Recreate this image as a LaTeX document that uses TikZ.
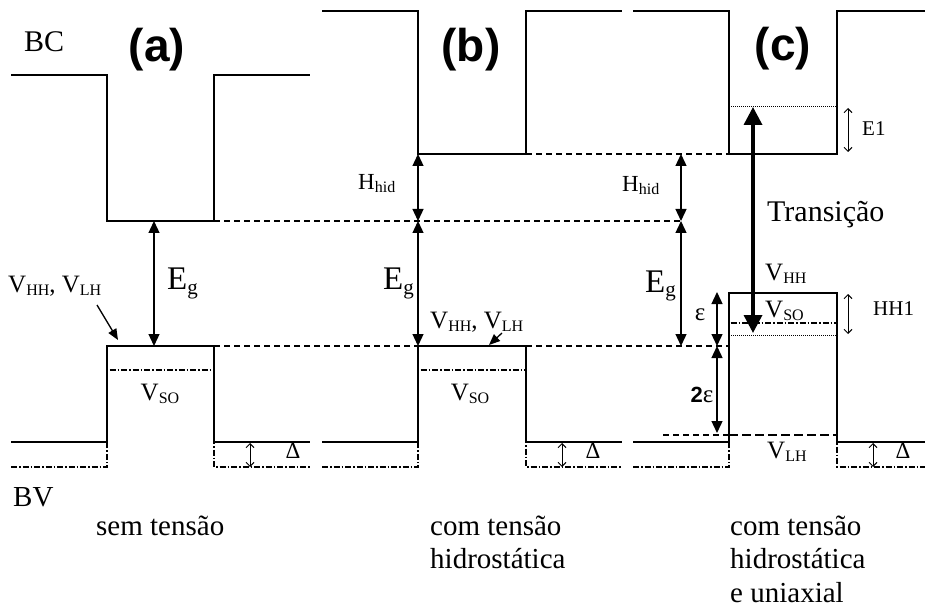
\documentclass[tikz,border=0pt]{standalone}
\usepackage{fontspec}
\setmainfont{Liberation Serif}
\newfontfamily\hsans{Liberation Sans}
\usetikzlibrary{arrows.meta}
\newcommand{\sbs}[1]{\raisebox{-3pt}{\fontsize{16}{16}\selectfont #1}}
\newcommand{\sbg}[1]{\raisebox{-5pt}{\fontsize{21}{21}\selectfont #1}}
\begin{document}
\begin{tikzpicture}[x=1pt,y=-1pt,
  band/.style={line width=1.3pt},
  dsh/.style={line width=1.1pt, dash pattern=on 6pt off 4pt},
  dshdot/.style={line width=1.1pt, dash pattern=on 6pt off 2pt on 1.5pt off 2pt},
  dott/.style={line width=1pt, dash pattern=on 1pt off 1pt},
  tri/.style={line width=1.3pt, {Triangle[length=12pt,width=11pt]}-{Triangle[length=12pt,width=11pt]}},
  ptr/.style={line width=1.3pt, -{Triangle[length=11pt,width=9pt]}},
  thin2/.style={line width=1pt, {Straight Barb[length=4pt,width=8pt]}-{Straight Barb[length=4pt,width=8pt]}},
  big/.style={line width=3.5pt, {Triangle[length=18pt,width=18pt]}-{Triangle[length=18pt,width=18pt]}},
  lab/.style={inner sep=0pt, anchor=base west, font=\fontsize{25}{30}\selectfont},
  labc/.style={inner sep=0pt, anchor=base, font=\fontsize{25}{30}\selectfont},
  txt/.style={inner sep=0pt, anchor=base west, font=\fontsize{29}{33}\selectfont},
  eg/.style={inner sep=0pt, anchor=base west, font=\fontsize{33}{36}\selectfont},
  sm/.style={inner sep=0pt, anchor=base west, font=\fontsize{21}{24}\selectfont},
  panel/.style={inner sep=0pt, anchor=base, font=\hsans\bfseries\fontsize{46}{50}\selectfont}
]
\useasboundingbox (0,0) rectangle (925,609);

% ---------- conduction band ----------
\draw[band] (11,75) -- (107,75) -- (107,221) -- (214,221) -- (214,75) -- (310,75);
\draw[band] (322,11) -- (418,11) -- (418,154) -- (526,154) -- (526,11) -- (622,11);
\draw[band] (633,11) -- (729,11) -- (729,154) -- (837,154) -- (837,11) -- (925,11);
\draw[dott] (729,107) -- (837,107);

% ---------- valence band ----------
\draw[band] (11,442) -- (107,442) -- (107,346) -- (214,346) -- (214,442) -- (310,442);
\draw[band] (322,442) -- (418,442) -- (418,346) -- (526,346) -- (526,442) -- (622,442);
\draw[band] (633,442) -- (729,442) -- (729,293) -- (837,293) -- (837,442) -- (925,442);

% split-off band (dash-dot)
\draw[dshdot] (11,467) -- (107,467) -- (107,370) -- (214,370) -- (214,467) -- (310,467);
\draw[dshdot] (322,467) -- (418,467) -- (418,370) -- (526,370) -- (526,467) -- (622,467);
\draw[dshdot] (633,467) -- (729,467) -- (729,323) -- (837,323) -- (837,467) -- (925,467);

% HH1 level and LH level in (c)
\draw[dott] (729,335) -- (837,335);
\draw[dsh] (663,435) -- (729,435);
\draw[line width=1.5pt, dash pattern=on 9pt off 4pt] (729,435) -- (837,435);

% ---------- reference dashed lines ----------
\draw[dsh] (214,221) -- (681,221);
\draw[dsh] (526,154) -- (729,154);
\draw[dsh] (214,346) -- (418,346);
\draw[dsh] (526,346) -- (729,346);

% ---------- arrows ----------
\draw[tri] (154,221) -- (154,346);
\draw[tri] (418,154) -- (418,221);
\draw[tri] (418,221) -- (418,346);
\draw[tri] (681,154) -- (681,221);
\draw[tri] (681,221) -- (681,346);
\draw[tri] (717,292) -- (717,346);
\draw[tri] (717,346) -- (717,433);
\draw[big] (753,107) -- (753,333);

\draw[thin2] (848,108) -- (848,152);
\draw[thin2] (848,294) -- (848,334);
\draw[thin2] (250,443) -- (250,467);
\draw[thin2] (562,443) -- (562,467);
\draw[thin2] (873,443) -- (873,467);

% ---------- labels ----------
\node[txt, font=\fontsize{30}{33}\selectfont] (bc) at (24,52) {BC};
\node[txt] (bv) at (13,506) {BV};
\node[panel] (pa) at (157,62) {(a)};
\node[panel] (pb) at (471,62) {(b)};
\node[panel] (pc) at (783,61) {(c)};

\node[lab] (vhha) at (8,292) {V\sbs{HH}, V\sbs{LH}};
\coordinate (pta) at (97,305);
\coordinate (tipa) at (118,340);
\draw[ptr] (pta) -- (tipa);
\node[eg] (ega) at (167,290) {E\sbg{g}};
\node[labc] (vsoa) at (160,400) {V\sbs{SO}};
\node[labc, font=\fontsize{23}{26}\selectfont] (da) at (293,458) {Δ};

\node[lab, font=\fontsize{23}{26}\selectfont] (hb) at (358,190) {H\sbs{hid}};
\node[eg] (egb) at (383,290) {E\sbg{g}};
\node[lab] (vhhb) at (430,328) {V\sbs{HH}, V\sbs{LH}};
\coordinate (ptb) at (502,333);
\coordinate (tipb) at (489,345);
\draw[ptr] (ptb) -- (tipb);
\node[labc] (vsob) at (470,400) {V\sbs{SO}};
\node[labc, font=\fontsize{23}{26}\selectfont] (db) at (593,458) {Δ};

\node[lab, font=\fontsize{23}{26}\selectfont] (hc) at (622,192) {H\sbs{hid}};
\node[eg] (egc) at (645,292) {E\sbg{g}};
\node[inner sep=0pt, font=\fontsize{25}{28}\selectfont] (eps) at (700,315) {ε};
\node[inner sep=0pt, font=\fontsize{25}{28}\selectfont] (eps2) at (702,395) {{\hsans\bfseries\fontsize{22}{24}\selectfont 2}ε};
\node[lab] (vhhc) at (765,280) {V\sbs{HH}};
\node[lab] (vsoc) at (765,317) {V\sbs{SO}};
\node[lab] (vlhc) at (767,458) {V\sbs{LH}};
\node[sm] (hh1) at (873,315) {HH1};
\node[sm] (e1) at (862,136) {E1};
\node[labc, font=\fontsize{23}{26}\selectfont] (dc) at (903,458) {Δ};
\node[txt, font=\fontsize{30}{33}\selectfont] (tr) at (767,222) {Transição};

\node[txt] (ta) at (96,535) {sem tensão};
\node[txt] (tb1) at (430,535) {com tensão};
\node[txt] (tb2) at (430,568) {hidrostática};
\node[txt] (tc1) at (730,535) {com tensão};
\node[txt] (tc2) at (730,568) {hidrostática};
\node[txt] (tc3) at (730,602) {e uniaxial};
\end{tikzpicture}
\end{document}
